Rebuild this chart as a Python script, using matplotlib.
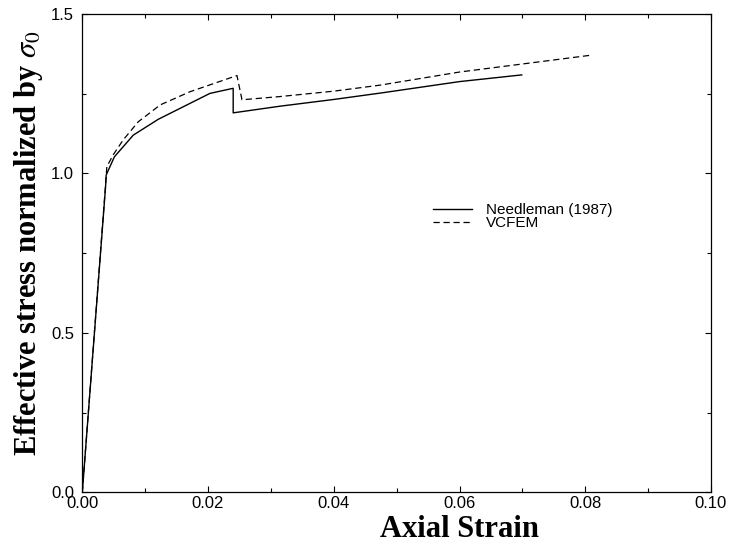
import matplotlib
matplotlib.use("Agg")
import matplotlib.pyplot as plt
from matplotlib.ticker import MultipleLocator, FormatStrFormatter

# Needleman (1987), solid
needle_x = [0.0, 0.0037, 0.0038, 0.0051, 0.0081, 0.0121, 0.0203, 0.0240, 0.0240, 0.0315, 0.0400, 0.0474, 0.0600, 0.0699]
needle_y = [0.0, 0.958, 0.995, 1.052, 1.120, 1.170, 1.251, 1.267, 1.190, 1.211, 1.232, 1.252, 1.288, 1.309]

# VCFEM, dashed
vcfem_x = [0.0, 0.0038, 0.0039, 0.0049, 0.0065, 0.0089, 0.0124, 0.0171, 0.0246, 0.0254, 0.0314, 0.0400, 0.0474, 0.0600, 0.0810]
vcfem_y = [0.0, 0.990, 1.021, 1.058, 1.105, 1.162, 1.215, 1.256, 1.307, 1.231, 1.241, 1.258, 1.277, 1.318, 1.371]

labels = ["Needleman (1987)", "VCFEM"]

plt.rcParams['font.family'] = ['Liberation Sans', 'DejaVu Sans']
plt.rcParams['mathtext.fontset'] = 'stix'

fig = plt.figure(figsize=(7.3, 5.44), dpi=100)
ax = fig.add_axes([82.3/730, 1 - 492.3/544, 628.7/730, 478.3/544])

ax.plot(needle_x, needle_y, color='black', lw=1.0, label=labels[0])
ax.plot(vcfem_x, vcfem_y, color='black', lw=0.9, linestyle=(0, (5, 3)), label=labels[1])

ax.set_xlim(0, 0.10)
ax.set_ylim(0, 1.5)
ax.xaxis.set_major_locator(MultipleLocator(0.02))
ax.xaxis.set_minor_locator(MultipleLocator(0.01))
ax.yaxis.set_major_locator(MultipleLocator(0.5))
ax.yaxis.set_minor_locator(MultipleLocator(0.25))
ax.xaxis.set_major_formatter(FormatStrFormatter('%.2f'))
ax.yaxis.set_major_formatter(FormatStrFormatter('%.1f'))
ax.tick_params(which='both', direction='in', top=True, right=True, width=0.8)
ax.tick_params(which='major', length=4, labelsize=12)
ax.tick_params(axis='x', which='major', pad=3)
ax.tick_params(axis='y', which='major', pad=6)
ax.tick_params(which='minor', length=3)
for s in ax.spines.values():
    s.set_linewidth(0.9)

ax.set_xlabel("Axial Strain", family='Liberation Serif', fontweight='bold', fontsize=22)
ax.xaxis.set_label_coords(0.6, -0.047)
ax.set_ylabel(r"Effective stress normalized by $\sigma_0$", family='Liberation Serif',
              fontweight='bold', fontsize=22)
ax.yaxis.set_label_coords(-0.06, 0.52)

ax.legend(loc='upper left', bbox_to_anchor=(0.558, 0.605), frameon=False, fontsize=11,
          handlelength=2.55, handletextpad=0.9, labelspacing=-0.05, borderpad=0, borderaxespad=0)

fig.savefig("out.png", dpi=100)
